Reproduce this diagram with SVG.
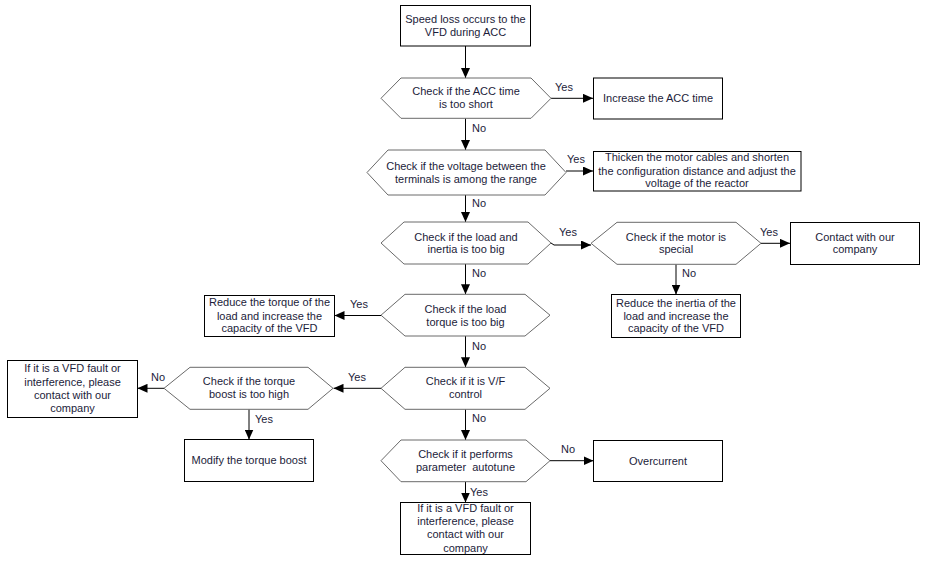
<svg xmlns="http://www.w3.org/2000/svg" width="928" height="564" viewBox="0 0 928 564">
<style>
.bg{fill:#fff}
.box{fill:#fff;stroke:#000;stroke-width:1}
.hex{fill:#fff;stroke:#6a6a6a;stroke-width:1}
.t{font-family:"Liberation Sans",Arial,sans-serif;font-size:11px;fill:#1c1c3a;text-anchor:middle}
.l{font-family:"Liberation Sans",Arial,sans-serif;font-size:11px;fill:#1c1c3a}
.c{fill:none;stroke:#000;stroke-width:1;marker-end:url(#ah)}
</style>
<defs>
<marker id="ah" markerUnits="userSpaceOnUse" markerWidth="10" markerHeight="9" refX="10" refY="4.5" orient="auto">
<path d="M0,0 L10,4.5 L0,9 z" fill="#000"/>
</marker>
</defs>
<rect class="bg" x="0" y="0" width="928" height="564"/>

<g id="connectors">
<path class="c" d="M465.5,46 L465.5,78"/>
<path class="c" d="M551,98.3 L593,98.3"/>
<path class="c" d="M465.5,118.3 L465.5,150"/>
<path class="c" d="M566,171 L593,171"/>
<path class="c" d="M465.5,195 L465.5,222"/>
<path class="c" d="M551,243 L554,245 L591,245"/>
<path class="c" d="M761,243.3 L790,243.3"/>
<path class="c" d="M676,264.3 L676,294.5"/>
<path class="c" d="M465.5,264 L465.5,294.3"/>
<path class="c" d="M381,315.5 L334.5,315.5"/>
<path class="c" d="M465.5,336 L465.5,367.3"/>
<path class="c" d="M381,388.3 L333.5,388.3"/>
<path class="c" d="M164,388.3 L137.5,388.3"/>
<path class="c" d="M249,409.3 L249,439.5"/>
<path class="c" d="M465.5,409.3 L465.5,440"/>
<path class="c" d="M550,460.7 L593.5,460.7"/>
<path class="c" d="M465.5,481.7 L465.5,502.5"/>
<text class="l" x="555" y="91">Yes</text>
<text class="l" x="472" y="132">No</text>
<text class="l" x="567" y="163">Yes</text>
<text class="l" x="472" y="207">No</text>
<text class="l" x="559" y="235.5">Yes</text>
<text class="l" x="760" y="235.5">Yes</text>
<text class="l" x="682" y="277">No</text>
<text class="l" x="472" y="277">No</text>
<text class="l" x="350" y="308">Yes</text>
<text class="l" x="472" y="350">No</text>
<text class="l" x="348" y="381">Yes</text>
<text class="l" x="151" y="381">No</text>
<text class="l" x="255" y="423">Yes</text>
<text class="l" x="472" y="421.5">No</text>
<text class="l" x="561" y="453">No</text>
<text class="l" x="470" y="496">Yes</text>
</g>

<g id="start">
<rect class="box" x="400.5" y="5.5" width="130" height="40.5"/>
<text class="t" x="465.5" y="23">Speed loss occurs to the</text>
<text class="t" x="465.5" y="36">VFD during ACC</text>
</g>

<g id="d1">
<polygon class="hex" points="381,98.3 401,78 531,78 551,98.3 531,118.3 401,118.3"/>
<text class="t" x="466" y="94.7">Check if the ACC time</text>
<text class="t" x="466" y="108">is too short</text>
</g>

<g id="increase">
<rect class="box" x="593.5" y="78" width="129" height="41"/>
<text class="t" x="658" y="102">Increase the ACC time</text>
</g>

<g id="d2">
<polygon class="hex" points="367,172.5 388,150 545,150 566,172.5 545,195 388,195"/>
<text class="t" x="466" y="169.7">Check if the voltage between the</text>
<text class="t" x="466" y="183.3">terminals is among the range</text>
</g>

<g id="thicken">
<rect class="box" x="593.5" y="151.5" width="207.5" height="39.5"/>
<text class="t" x="697" y="160.7">Thicken the motor cables and shorten</text>
<text class="t" x="697" y="174.5">the configuration distance and adjust the</text>
<text class="t" x="697" y="187.3">voltage of the reactor</text>
</g>

<g id="d3">
<polygon class="hex" points="381,243 404,222 528,222 551,243 528,264 404,264"/>
<text class="t" x="466" y="240.7">Check if the load and</text>
<text class="t" x="466" y="253.3">inertia is too big</text>
</g>

<g id="d4">
<polygon class="hex" points="591,243.3 617,222.3 736,222.3 761,243.3 736,264.3 617,264.3"/>
<text class="t" x="676" y="240.7">Check if the motor is</text>
<text class="t" x="676" y="253.3">special</text>
</g>

<g id="contact">
<rect class="box" x="790.5" y="222.5" width="129" height="42"/>
<text class="t" x="855" y="240.7">Contact with our</text>
<text class="t" x="855" y="253.3">company</text>
</g>

<g id="reduce-inertia">
<rect class="box" x="611.5" y="294.5" width="129" height="43"/>
<text class="t" x="676" y="306.5">Reduce the inertia of the</text>
<text class="t" x="676" y="319.5">load and increase the</text>
<text class="t" x="676" y="332.3">capacity of the VFD</text>
</g>

<g id="d5">
<polygon class="hex" points="381,315.2 405,294.3 525,294.3 550,315.2 525,336 405,336"/>
<text class="t" x="465.5" y="313.3">Check if the load</text>
<text class="t" x="465.5" y="326.3">torque is too big</text>
</g>

<g id="reduce-torque">
<rect class="box" x="204.5" y="295.5" width="130" height="41"/>
<text class="t" x="269.5" y="306.3">Reduce the torque of the</text>
<text class="t" x="269.5" y="319.7">load and increase the</text>
<text class="t" x="269.5" y="332.3">capacity of the VFD</text>
</g>

<g id="d6">
<polygon class="hex" points="381,388.3 405,367.3 525,367.3 550,388.3 525,409.3 405,409.3"/>
<text class="t" x="465.5" y="385">Check if it is V/F</text>
<text class="t" x="465.5" y="398">control</text>
</g>

<g id="d7">
<polygon class="hex" points="164,388.3 190,367.3 308,367.3 333,388.3 308,409.3 190,409.3"/>
<text class="t" x="249" y="385.3">Check if the torque</text>
<text class="t" x="249" y="398">boost is too high</text>
</g>

<g id="fault-left">
<rect class="box" x="7.5" y="360.5" width="130" height="57"/>
<text class="t" x="72.5" y="371.7">If it is a VFD fault or</text>
<text class="t" x="72.5" y="386.3">interference, please</text>
<text class="t" x="72.5" y="399">contact with our</text>
<text class="t" x="72.5" y="412.3">company</text>
</g>

<g id="modify">
<rect class="box" x="184.5" y="439.5" width="129" height="42"/>
<text class="t" x="249" y="464">Modify the torque boost</text>
</g>

<g id="d8">
<polygon class="hex" points="381,460.7 401,440 526,440 550,460.7 526,481.7 401,481.7"/>
<text class="t" x="465.5" y="458.3">Check if it performs</text>
<text class="t" x="465.5" y="471.3" xml:space="preserve">parameter  autotune</text>
</g>

<g id="overcurrent">
<rect class="box" x="593.5" y="440.5" width="129" height="41"/>
<text class="t" x="658" y="464.7">Overcurrent</text>
</g>

<g id="fault-bottom">
<rect class="box" x="400.5" y="502.5" width="130" height="52"/>
<text class="t" x="465.5" y="511.7">If it is a VFD fault or</text>
<text class="t" x="465.5" y="525">interference, please</text>
<text class="t" x="465.5" y="538">contact with our</text>
<text class="t" x="465.5" y="551.5">company</text>
</g>
</svg>
